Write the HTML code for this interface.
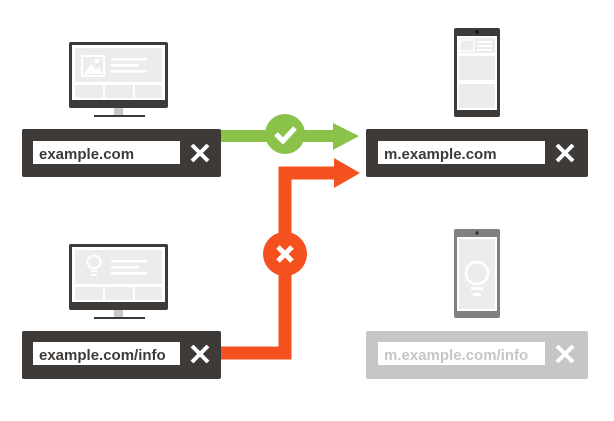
<!DOCTYPE html>
<html><head><meta charset="utf-8"><style>
html,body{margin:0;padding:0;background:#fff;}
svg{display:block;}
text{font-family:"Liberation Sans",Arial,sans-serif;font-weight:bold;}
</style></head><body>
<svg width="614" height="421" viewBox="0 0 614 421" xmlns="http://www.w3.org/2000/svg">
<defs>
<g id="mon">
<rect x="69" y="42" width="99" height="66" rx="2" fill="#3e3a37"/>
<rect x="72" y="45" width="93" height="55" fill="#fff"/>
<rect x="75" y="48" width="87" height="34" fill="#ececec"/>
<rect x="75" y="85" width="28" height="13" fill="#ececec"/>
<rect x="105" y="85" width="28" height="13" fill="#ececec"/>
<rect x="135" y="85" width="27" height="13" fill="#ececec"/>
<rect x="114" y="108" width="9" height="7" fill="#c8c8c8"/>
<rect x="94" y="115" width="51" height="2" fill="#3e3a37"/>
<rect x="111" y="58" width="36" height="2.5" fill="#fff"/>
<rect x="111" y="64" width="28" height="2.5" fill="#fff"/>
<rect x="111" y="70" width="36" height="2.5" fill="#fff"/>
</g>
</defs>
<!-- top-left monitor -->
<use href="#mon"/>
<rect x="82" y="56" width="22" height="20" fill="none" stroke="#fff" stroke-width="2"/>
<polygon points="84,74 91,64 96,70 99,67 102,74" fill="#fff"/>
<circle cx="97" cy="61" r="2.5" fill="#fff"/>
<!-- bottom-left monitor -->
<g transform="translate(0,202)"><use href="#mon"/></g>
<circle cx="94" cy="262" r="6.5" fill="none" stroke="#fff" stroke-width="2"/>
<rect x="91" y="270" width="6" height="2" fill="#fff"/><rect x="91" y="274" width="6" height="2" fill="#fff"/>

<!-- bars -->
<rect x="22" y="129" width="199" height="48" rx="2" fill="#3e3a37"/>
<rect x="33" y="141" width="147" height="23" fill="#fff"/>
<text x="39" y="159" font-size="15" fill="#3e3a37">example.com</text>
<path d="M192,145 L208,161 M208,145 L192,161" stroke="#fff" stroke-width="4"/>

<rect x="22" y="331" width="199" height="48" rx="2" fill="#3e3a37"/>
<rect x="33" y="342" width="147" height="23" fill="#fff"/>
<text x="39" y="360" font-size="15" fill="#3e3a37">example.com/info</text>
<path d="M192,346 L208,362 M208,346 L192,362" stroke="#fff" stroke-width="4"/>

<rect x="366" y="129" width="222" height="48" rx="2" fill="#3e3a37"/>
<rect x="378" y="141" width="167" height="23" fill="#fff"/>
<text x="384" y="159" font-size="15" fill="#3e3a37">m.example.com</text>
<path d="M557,145 L573,161 M573,145 L557,161" stroke="#fff" stroke-width="4"/>

<rect x="366" y="331" width="222" height="48" rx="2" fill="#c6c6c6"/>
<rect x="378" y="342" width="167" height="23" fill="#fff"/>
<text x="384" y="360" font-size="15" fill="#c6c6c6">m.example.com/info</text>
<path d="M557,346 L573,362 M573,346 L557,362" stroke="#fff" stroke-width="4"/>

<!-- phones -->
<rect x="454" y="28" width="46" height="89" rx="2" fill="#3e3a37"/>
<rect x="457" y="36" width="40" height="74" fill="#fff"/>
<rect x="459" y="38" width="36" height="15" fill="#ececec"/>
<rect x="460" y="40" width="14" height="11" fill="none" stroke="#fff" stroke-width="1.5"/>
<rect x="477" y="41" width="15" height="2" fill="#fff"/><rect x="477" y="45" width="15" height="2" fill="#fff"/><rect x="477" y="49" width="15" height="2" fill="#fff"/>
<rect x="459" y="56" width="36" height="24" fill="#ececec"/>
<rect x="459" y="84" width="36" height="24" fill="#ececec"/>
<circle cx="477" cy="32" r="1.8" fill="#111"/>

<rect x="454" y="229" width="46" height="89" rx="2" fill="#808080"/>
<rect x="457" y="237" width="40" height="74" fill="#fff"/>
<rect x="459" y="239" width="36" height="70" fill="#ececec"/>
<circle cx="477" cy="273" r="11" fill="none" stroke="#fff" stroke-width="2.5"/>
<rect x="471" y="287" width="12" height="3" fill="#fff"/><rect x="473" y="293" width="8" height="3" fill="#fff"/>
<circle cx="477" cy="233" r="1.8" fill="#333"/>

<!-- green arrow -->
<rect x="221" y="130" width="114" height="12" fill="#8bc34a"/>
<polygon points="333,123 359,136 333,150" fill="#8bc34a"/>
<circle cx="285" cy="134" r="20" fill="#8bc34a"/>
<path d="M276,134 L283,141 L295,128" fill="none" stroke="#fff" stroke-width="5"/>

<!-- orange arrow -->
<path d="M221,353 L285,353 L285,173 L336,173" fill="none" stroke="#f4511e" stroke-width="13"/>
<polygon points="334,158 360,173 334,188" fill="#f4511e"/>
<circle cx="285" cy="254" r="22" fill="#f4511e"/>
<path d="M278,247 L292,261 M292,247 L278,261" stroke="#fff" stroke-width="5"/>
</svg>
</body></html>
